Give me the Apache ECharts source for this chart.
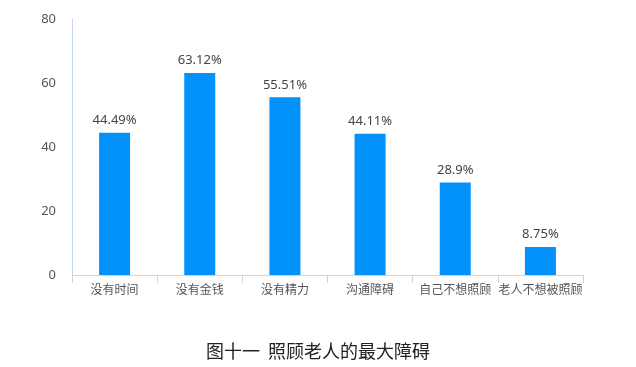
<!DOCTYPE html>
<html><head><meta charset="utf-8">
<script src="https://cdn.jsdelivr.net/npm/echarts@6/dist/echarts.min.js"></script>
<style>html,body{margin:0;padding:0;background:#fff}#c{width:636px;height:367px}</style>
</head><body><div id="c"></div>
<script>
const categories = ['没有时间','没有金钱','没有精力','沟通障碍','自己不想照顾','老人不想被照顾'];
const values = [44.49, 63.12, 55.51, 44.11, 28.9, 8.75];
const yTicks = [0, 20, 40, 60, 80];
const titleText = '图十一  照顾老人的最大障碍';

const chart = echarts.init(document.getElementById('c'), null, {renderer: 'canvas'});
chart.setOption({
  animation: false,
  backgroundColor: '#fff',
  title: {
    text: titleText, left: 'center', top: 337,
    textStyle: {fontFamily: '"Noto Sans CJK SC"', fontWeight: 'normal', fontSize: 18, color: '#222'}
  },
  grid: {left: 72, right: 53, top: 19, bottom: 92},
  xAxis: {
    type: 'category', data: categories,
    axisLine: {lineStyle: {color: '#d0d4da'}},
    axisTick: {show: true, length: 8, lineStyle: {color: '#d0d4da'}},
    axisLabel: {color: '#555', fontSize: 12, margin: 8, interval: 0, fontFamily: '"Noto Sans CJK SC"'}
  },
  yAxis: {
    type: 'value', min: yTicks[0], max: yTicks[yTicks.length - 1], interval: 20,
    axisLine: {show: true, lineStyle: {color: '#c4d8ea'}},
    axisTick: {show: false},
    splitLine: {show: false},
    axisLabel: {color: '#555', fontSize: 13, margin: 16, fontFamily: '"Noto Sans", sans-serif'}
  },
  series: [{
    type: 'bar', data: values, barWidth: 31,
    itemStyle: {color: '#0392fb'},
    label: {show: true, position: 'top', distance: 6, color: '#444', fontSize: 13,
      fontFamily: '"Noto Sans", sans-serif', formatter: p => p.value + '%'}
  }]
});
</script></body></html>
